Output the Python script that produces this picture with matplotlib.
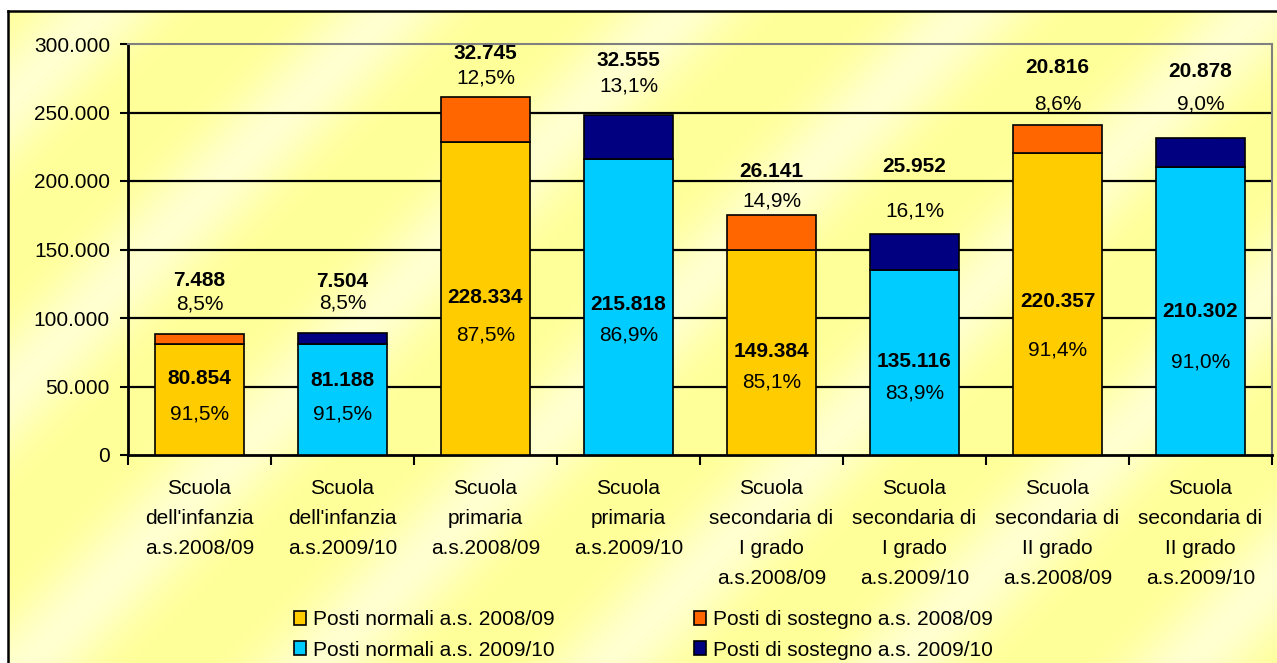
import matplotlib.pyplot as plt
import numpy as np
from matplotlib.patches import Patch

# Data
categories = [
    "Scuola\ndell'infanzia\na.s.2008/09",
    "Scuola\ndell'infanzia\na.s.2009/10",
    "Scuola\nprimaria\na.s.2008/09",
    "Scuola\nprimaria\na.s.2009/10",
    "Scuola\nsecondaria di\nI grado\na.s.2008/09",
    "Scuola\nsecondaria di\nI grado\na.s.2009/10",
    "Scuola\nsecondaria di\nII grado\na.s.2008/09",
    "Scuola\nsecondaria di\nII grado\na.s.2009/10",
]
normali = [80854, 81188, 228334, 215818, 149384, 135116, 220357, 210302]
sostegno = [7488, 7504, 32745, 32555, 26141, 25952, 20816, 20878]
pct_normali = ["91,5%", "91,5%", "87,5%", "86,9%", "85,1%", "83,9%", "91,4%", "91,0%"]
pct_sostegno = ["8,5%", "8,5%", "12,5%", "13,1%", "14,9%", "16,1%", "8,6%", "9,0%"]
legend_labels = ["Posti normali a.s. 2008/09", "Posti normali a.s. 2009/10",
                 "Posti di sostegno a.s. 2008/09", "Posti di sostegno a.s. 2009/10"]

# label placement (data units, hand placed like in the original)
y_val_norm = [56200, 54700, 114600, 109500, 75200, 67900, 111700, 105100]
y_pct_norm = [29900, 29900, 87600, 87600, 53300, 45300, 76600, 67900]
y_val_sost = [127700, 127000, 293400, 288300, 206600, 210900, 282500, 279600]
y_pct_sost = [110200, 110900, 275200, 269300, 185400, 178100, 256200, 256200]

col_norm = ["#FFCC00", "#00CCFF"]
col_sost = ["#FF6600", "#000080"]

plt.rcParams['font.family'] = ['Liberation Sans', 'DejaVu Sans']
W, H = 1277, 663
fig = plt.figure(figsize=(W / 100, H / 100), dpi=100)

# background: pale yellow with diagonal light streaks
X, Y = np.meshgrid(np.arange(W), np.arange(H))
t = (0.5 + 0.5 * np.cos(2 * np.pi * (X + Y - 690) / 290)) ** 2
base = np.array([255, 255, 153]) / 255
light = np.array([255, 255, 208]) / 255
img = base + (light - base) * t[..., None]
img[(Y < 11) | (X < 8)] = 1.0
bg = fig.add_axes([0, 0, 1, 1], zorder=-10)
bg.imshow(img, extent=(0, W, H, 0), aspect='auto', interpolation='bilinear')
bg.plot([8, W], [11, 11], color='black', lw=1.8)
bg.plot([8, 8], [11, H], color='black', lw=1.8)
bg.set_xlim(0, W)
bg.set_ylim(H, 0)
bg.axis('off')

ax = fig.add_axes([128 / W, 1 - 455 / H, 1144 / W, 411 / H])
ax.patch.set_alpha(0)

x = np.arange(len(categories))
cn = [col_norm[i % 2] for i in x]
cs = [col_sost[i % 2] for i in x]
ax.bar(x, normali, width=0.62, color=cn, edgecolor='black', linewidth=1.2, zorder=3)
ax.bar(x, sostegno, bottom=normali, width=0.62, color=cs, edgecolor='black', linewidth=1.2, zorder=3)

fmt = lambda v: f"{v:,}".replace(",", ".")
for i in x:
    ax.text(i, y_val_norm[i], fmt(normali[i]), ha='center', va='center', fontsize=15, fontweight='bold', zorder=5)
    ax.text(i, y_pct_norm[i], pct_normali[i], ha='center', va='center', fontsize=15, zorder=5)
    ax.text(i, y_val_sost[i], fmt(sostegno[i]), ha='center', va='center', fontsize=15, fontweight='bold', zorder=5)
    ax.text(i, y_pct_sost[i], pct_sostegno[i], ha='center', va='center', fontsize=15, zorder=5)

yt = np.arange(0, 300001, 50000)
for v in yt[1:-1]:
    ax.axhline(v, color='black', lw=1.6, zorder=1)
ax.set_ylim(0, 300000)
ax.set_xlim(-0.5, len(categories) - 0.5)
ax.set_yticks(yt)
ax.set_yticklabels([fmt(v) for v in yt])
ax.tick_params(axis='y', length=6, width=1.5, pad=7, labelsize=15)

ax.set_xticks(x)
ax.set_xticklabels(categories)
ax.set_xticks(np.arange(-0.5, len(categories), 1), minor=True)
ax.tick_params(axis='x', which='major', length=0, pad=17, labelsize=15)
ax.tick_params(axis='x', which='minor', length=7, width=1.5)
for lbl in ax.get_xticklabels():
    lbl.set_linespacing(1.74)

for s in ['top', 'right']:
    ax.spines[s].set_color('#808080')
    ax.spines[s].set_linewidth(1.5)
for s in ['left', 'bottom']:
    ax.spines[s].set_color('black')
    ax.spines[s].set_linewidth(2)

handles = [Patch(facecolor=c, edgecolor='black', linewidth=1.2) for c in col_norm + col_sost]
opts = dict(loc='upper left', frameon=False, fontsize=15, handlelength=0.55, handleheight=0.65,
            handletextpad=0.35, labelspacing=0.54, borderpad=0)
fig.legend(handles[:2], legend_labels[:2], bbox_to_anchor=(284 / W, 1 - 600 / H), **opts)
fig.legend(handles[2:], legend_labels[2:], bbox_to_anchor=(684 / W, 1 - 600 / H), **opts)

fig.savefig("out.png", dpi=100)
